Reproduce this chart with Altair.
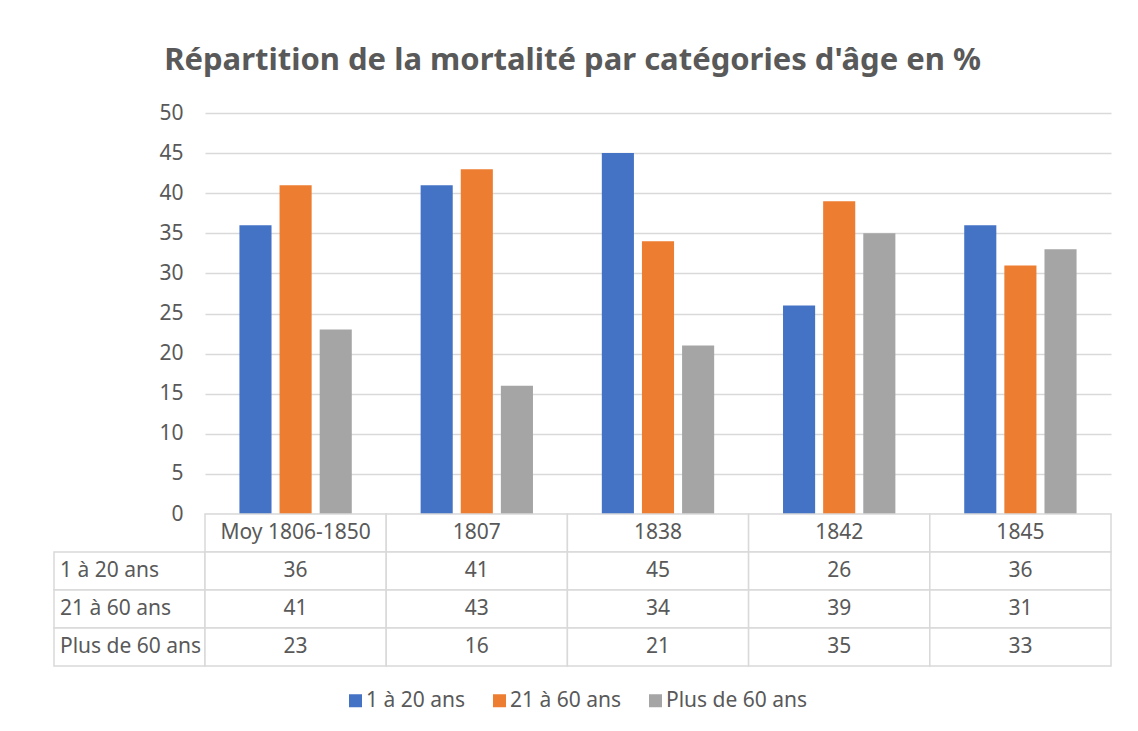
import altair as alt
import pandas as pd

# ---- data ----
categories = ["Moy 1806-1850", "1807", "1838", "1842", "1845"]
series = ["1 à 20 ans", "21 à 60 ans", "Plus de 60 ans"]
val_1_20 = [36, 41, 45, 26, 36]
val_21_60 = [41, 43, 34, 39, 31]
val_60_plus = [23, 16, 21, 35, 33]
y_ticks = [0, 5, 10, 15, 20, 25, 30, 35, 40, 45, 50]
colors = ["#4472C4", "#ED7D31", "#A5A5A5"]
title_text = "Répartition de la mortalité par catégories d'âge en %"

FONT = "Noto Sans"
TXT = "#595959"
GRID = "#D9D9D9"
FS = 21

values = [val_1_20, val_21_60, val_60_plus]
df = pd.DataFrame(
    [{"cat": c, "serie": s, "val": v} for s, vals in zip(series, values) for c, v in zip(categories, vals)]
)

HDR = "_header"
row_order = [HDR] + series
tdf = pd.DataFrame(
    [{"row": HDR, "cat": c, "text": c} for c in categories]
    + [{"row": s, "cat": c, "text": str(v)} for s, vals in zip(series, values) for c, v in zip(categories, vals)]
)
ldf = pd.DataFrame([{"row": s, "col": "label", "text": s} for s in series])

# ---- bars ----
bars = alt.Chart(df).mark_bar().encode(
    x=alt.X("cat:N", sort=categories,
            scale=alt.Scale(domain=categories, paddingInner=0.38, paddingOuter=0.19), axis=None),
    xOffset=alt.XOffset("serie:N", sort=series,
                        scale=alt.Scale(domain=series, paddingInner=0.2, paddingOuter=0)),
    y=alt.Y("val:Q", scale=alt.Scale(domain=[0, 50], nice=False),
            axis=alt.Axis(values=y_ticks, title=None, domain=False, ticks=False, grid=True,
                          gridColor=GRID, gridWidth=1.5, labelFont=FONT, labelFontSize=FS,
                          labelColor=TXT, labelPadding=22)),
    color=alt.Color("serie:N", sort=series, scale=alt.Scale(domain=series, range=colors),
                    legend=alt.Legend(orient="none", direction="horizontal", legendX=291, legendY=577,
                                      title=None, symbolType="square", symbolSize=169,
                                      symbolStrokeWidth=0, labelFont=FONT, labelFontSize=FS,
                                      labelColor=TXT, labelOffset=0, columnPadding=23)),
).properties(width=906, height=401)

# ---- spacer (top-left cell, under the y axis labels) ----
spacer = alt.Chart(pd.DataFrame({"v": [0]})).mark_point(opacity=0).encode(
    x=alt.X("v:Q", axis=None), y=alt.Y("v:Q", axis=None)
).properties(width=151, height=401)

# ---- label column of the data table ----
lbase = alt.Chart(ldf).encode(
    x=alt.X("col:N", scale=alt.Scale(paddingInner=0, paddingOuter=0), axis=None),
    y=alt.Y("row:N", sort=row_order,
            scale=alt.Scale(domain=row_order, paddingInner=0, paddingOuter=0), axis=None),
)
label_panel = alt.layer(
    lbase.mark_rect(fill="white", stroke=GRID, strokeWidth=1.5),
    lbase.mark_text(align="left", dx=6, font=FONT, fontSize=FS, color=TXT).encode(
        x=alt.X("col:N", bandPosition=0, scale=alt.Scale(paddingInner=0, paddingOuter=0), axis=None),
        text="text:N"),
).properties(width=151, height=152)

# ---- values of the data table ----
tbase = alt.Chart(tdf).encode(
    x=alt.X("cat:N", sort=categories,
            scale=alt.Scale(domain=categories, paddingInner=0, paddingOuter=0), axis=None),
    y=alt.Y("row:N", sort=row_order,
            scale=alt.Scale(domain=row_order, paddingInner=0, paddingOuter=0), axis=None),
)
table_panel = alt.layer(
    tbase.mark_rect(fill="white", stroke=GRID, strokeWidth=1.5),
    tbase.mark_text(font=FONT, fontSize=FS, color=TXT).encode(text="text:N"),
).properties(width=906, height=152)

chart = alt.ConcatChart(
    concat=[spacer, bars, label_panel, table_panel], columns=2, spacing=0, bounds="flush"
).properties(
    title=alt.TitleParams(title_text, font=FONT, fontSize=31, fontWeight="bold", color=TXT,
                          anchor="middle", offset=25, dx=-10),
    padding={"left": 45, "top": 37, "right": 5, "bottom": 5},
).configure_view(strokeWidth=0)

chart.save("out.html", embed_options={"renderer": "svg", "actions": False})
